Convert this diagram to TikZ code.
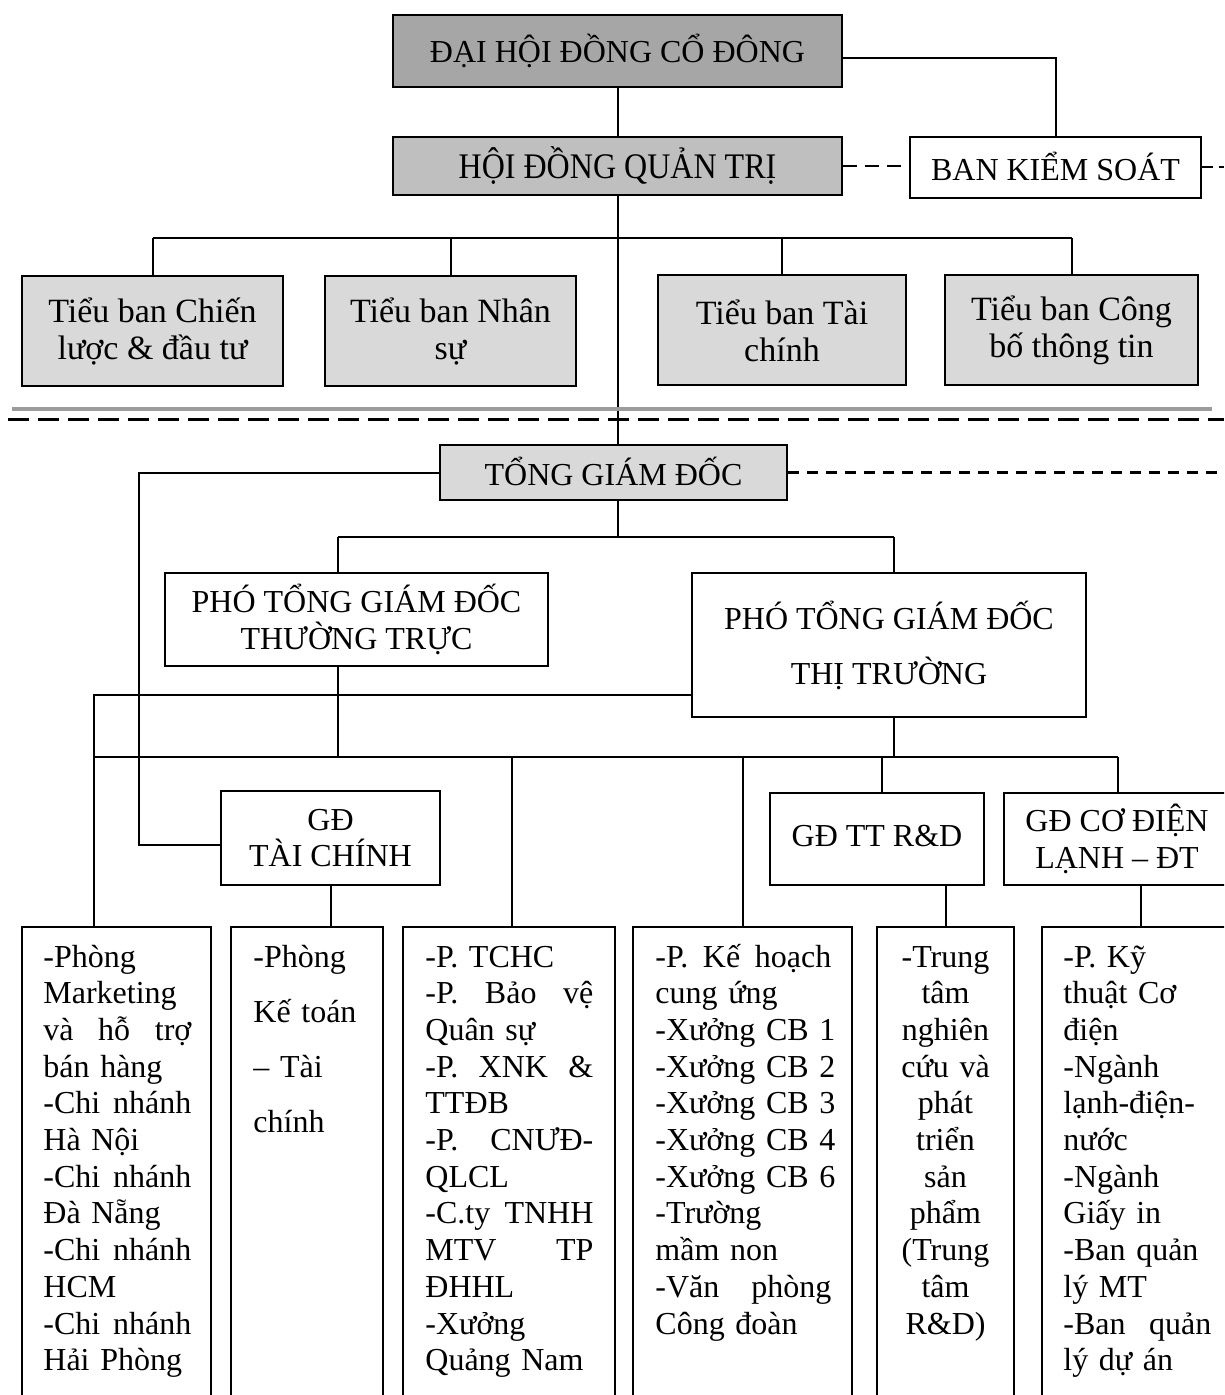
\documentclass[tikz,border=0pt]{standalone}
\usepackage{fontspec}
\usepackage{graphicx}
\setmainfont{Liberation Serif}
\definecolor{shadeA}{HTML}{A6A6A6}
\definecolor{shadeB}{HTML}{BFBFBF}
\definecolor{shadeC}{HTML}{D9D9D9}
\definecolor{sepgray}{HTML}{9C9C9C}
% a line spread to a fixed width; words are separated by \hfill
\newcommand{\jline}[2]{\leavevmode\hbox to #1{#2}}
\begin{document}
\begin{tikzpicture}[x=0.5pt,y=-0.5pt,
  box/.style={draw, line width=1pt, inner sep=2pt, align=center,
              font=\fontsize{16pt}{18.35pt}\selectfont},
  link/.style={line width=1pt},
  list/.style={inner sep=0pt, anchor=base west, align=left,
               font=\fontsize{16pt}{18.35pt}\selectfont},
]
\path[use as bounding box] (0,0) rectangle (1224,1395);
\clip (0,0) rectangle (1224,1395);
\fill[white] (0,0) rectangle (1224,1395);

% ---------- governing bodies ----------
\node[box, fill=shadeA, minimum width=224.5pt, minimum height=36pt] (dhdcd) at (617.5,51)
  {\raisebox{2.5pt}{ĐẠI HỘI ĐỒNG CỔ ĐÔNG}};
\node[box, fill=shadeB, minimum width=224.5pt, minimum height=29pt] (hdqt) at (617.5,166)
  {\fontsize{18pt}{20pt}\selectfont\scalebox{0.89}[1]{HỘI ĐỒNG QUẢN TRỊ}};
\node[box, fill=white, minimum width=145.5pt, minimum height=30.5pt] (bks) at (1055.5,167.5)
  {\raisebox{1pt}{BAN KIỂM SOÁT}};

% ---------- board committees ----------
\tikzset{tbbox/.style={box, fill=shadeC, minimum height=55pt,
         font=\fontsize{17pt}{18.5pt}\selectfont}}
\node[tbbox, minimum width=130.5pt] (tb1) at (152.5,331) {Tiểu ban Chiến\\lược \& đầu tư};
\node[tbbox, minimum width=125.5pt] (tb2) at (450.5,331) {Tiểu ban Nhân\\sự};
\node[tbbox, minimum width=124pt]   (tb3) at (782,330.5) {Tiểu ban Tài\\chính};
\node[tbbox, minimum width=126.5pt] (tb4) at (1071.5,330.5) {Tiểu ban Công\\bố thông tin};

% ---------- executive management ----------
\node[box, fill=shadeC, minimum width=173.5pt, minimum height=27.5pt] (tgd) at (613.5,472.5)
  {\raisebox{1.5pt}{TỔNG GIÁM ĐỐC}};
\node[box, fill=white, minimum width=191.5pt, minimum height=46.5pt] (ptgd1) at (356.5,619.5)
  {PHÓ TỔNG GIÁM ĐỐC\\THƯỜNG TRỰC};
\node[box, fill=white, minimum width=197pt, minimum height=72pt] (ptgd2) at (889,645)
  {\raisebox{3.5pt}{\parbox{190pt}{\centering PHÓ TỔNG GIÁM ĐỐC\\[9.15pt]THỊ TRƯỜNG}}};
\node[box, fill=white, minimum width=109.5pt, minimum height=47pt] (gdtc) at (330.5,838)
  {GĐ\\TÀI CHÍNH};
\node[box, fill=white, minimum width=107pt, minimum height=46pt] (gdrd) at (877,839)
  {\raisebox{3.5pt}{GĐ TT R\&D}};
\node[box, fill=white, minimum width=113pt, minimum height=46pt] (gdcd) at (1117,839)
  {GĐ CƠ ĐIỆN\\LẠNH – ĐT};

% ---------- departments ----------
\tikzset{dept/.style={draw, line width=1pt, fill=white, minimum height=246.5pt, inner sep=0pt}}
\node[dept, minimum width=94.5pt]  (b1) at (116.5,1173.5) {};
\node[dept, minimum width=76pt]    (b2) at (307,1173.5) {};
\node[dept, minimum width=106pt]   (b3) at (509,1173.5) {};
\node[dept, minimum width=109.5pt] (b4) at (742.5,1173.5) {};
\node[dept, minimum width=68.5pt]  (b5) at (945.5,1173.5) {};
\node[dept, minimum width=99pt]    (b6) at (1141,1173.5) {};

\node[list, text width=80pt] (t1) at (43,967)
  {-Phòng\\Marketing\\\jline{74pt}{và\hfill hỗ\hfill trợ}\\bán hàng\\\jline{74pt}{-Chi\hfill nhánh}\\Hà Nội\\
   \jline{74pt}{-Chi\hfill nhánh}\\Đà Nẵng\\\jline{74pt}{-Chi\hfill nhánh}\\HCM\\\jline{74pt}{-Chi\hfill nhánh}\\Hải Phòng};
\node[list, text width=60pt, font=\fontsize{16pt}{27.5pt}\selectfont] (t2) at (253,967)
  {-Phòng\\Kế toán\\– Tài\\chính};
\node[list, text width=90pt] (t3) at (425,967)
  {-P. TCHC\\\jline{84pt}{-P.\hfill Bảo\hfill vệ}\\Quân sự\\\jline{84pt}{-P.\hfill XNK\hfill \&}\\TTĐB\\
   \jline{84pt}{-P.\hfill CNƯĐ-}\\QLCL\\\jline{84pt}{-C.ty\hfill TNHH}\\\jline{84pt}{MTV\hfill TP}\\ĐHHL\\-Xưởng\\Quảng Nam};
\node[list, text width=95pt] (t4) at (655,967)
  {\jline{88pt}{-P.\hfill Kế\hfill hoạch}\\cung ứng\\-Xưởng CB 1\\-Xưởng CB 2\\-Xưởng CB 3\\-Xưởng CB 4\\
   -Xưởng CB 6\\-Trường\\mầm non\\\jline{88pt}{-Văn\hfill phòng}\\Công đoàn};
\node[list, anchor=base, align=center, text width=66pt] (t5) at (945.5,967)
  {-Trung\\tâm\\nghiên\\cứu và\\phát\\triển\\sản\\phẩm\\(Trung\\tâm\\R\&D)};
\node[list, text width=80pt] (t6) at (1063,967)
  {-P. Kỹ\\thuật Cơ\\điện\\-Ngành\\lạnh-điện-\\nước\\-Ngành\\Giấy in\\-Ban quản\\lý MT\\
   \jline{74pt}{-Ban\hfill quản}\\lý dự án};

% ---------- junction points ----------
\coordinate (bksend) at (1224,167.5);
\coordinate (tbbar) at (0,238);
\coordinate (sepA) at (12,409);
\coordinate (sepB) at (1212,409);
\coordinate (dashA) at (8,420);
\coordinate (dashB) at (1224,420);
\coordinate (edgeR) at (1224,472.5);
\coordinate (m1) at (338,537);
\coordinate (m2) at (894,537);
\coordinate (upL) at (94,695);
\coordinate (lowL) at (94,757);
\coordinate (lowR) at (1118,757);
\coordinate (lowA) at (512,757);
\coordinate (lowB) at (882,757);
\coordinate (fin) at (139,845);

% ---------- connectors ----------
\draw[link] (dhdcd.south) -- (hdqt.north);
\draw[link] ([yshift=-3.5pt]dhdcd.east) -| (bks.north);
\draw[link, dash pattern=on 7pt off 4pt] (hdqt.east) -- (hdqt.east -| bks.west);
\draw[link, dash pattern=on 5.5pt off 3pt] (bks.east) -- (bksend);
\draw[link] (hdqt.south) -- (hdqt.south |- tgd.north);
\draw[link] (tb1.north |- tbbar) -- (tb4.north |- tbbar);
\foreach \n in {tb1,tb2,tb3,tb4} \draw[link] (\n.north |- tbbar) -- (\n.north);

\draw[sepgray, line width=1.6pt] (sepA) -- (sepB);
\draw[line width=1.5pt, dash pattern=on 10.5pt off 4.5pt] (dashA) -- (dashB);

\draw[line width=1.2pt, dash pattern=on 5.5pt off 4pt] (tgd.east) -- (edgeR);
\draw[link] (tgd.west) -| (fin) -- (fin -| gdtc.west);
\draw[link] (hdqt.south |- tgd.south) -- (hdqt.south |- m1);
\draw[link] (m1) -- (m2);
\draw[link] (m1) -- (m1 |- ptgd1.north);
\draw[link] (m2) -- (m2 |- ptgd2.north);
\draw[link] (m1 |- ptgd1.south) -- (m1 |- lowL);
\draw[link] (m2 |- ptgd2.south) -- (m2 |- lowL);
\draw[link] (upL -| ptgd2.west) -- (upL) -- (upL |- b1.north);
\draw[link] (lowL) -- (lowR);
\draw[link] (lowA) -- (lowA |- b3.north);
\draw[link] (b4.north |- lowL) -- (b4.north);
\draw[link] (lowB) -- (lowB |- gdrd.north);
\draw[link] (lowR) -- (lowR |- gdcd.north);
\draw[link] (gdtc.south) -- (gdtc.south |- b2.north);
\draw[link] (b5.north |- gdrd.south) -- (b5.north);
\draw[link] (b6.north |- gdcd.south) -- (b6.north);
\end{tikzpicture}
\end{document}
